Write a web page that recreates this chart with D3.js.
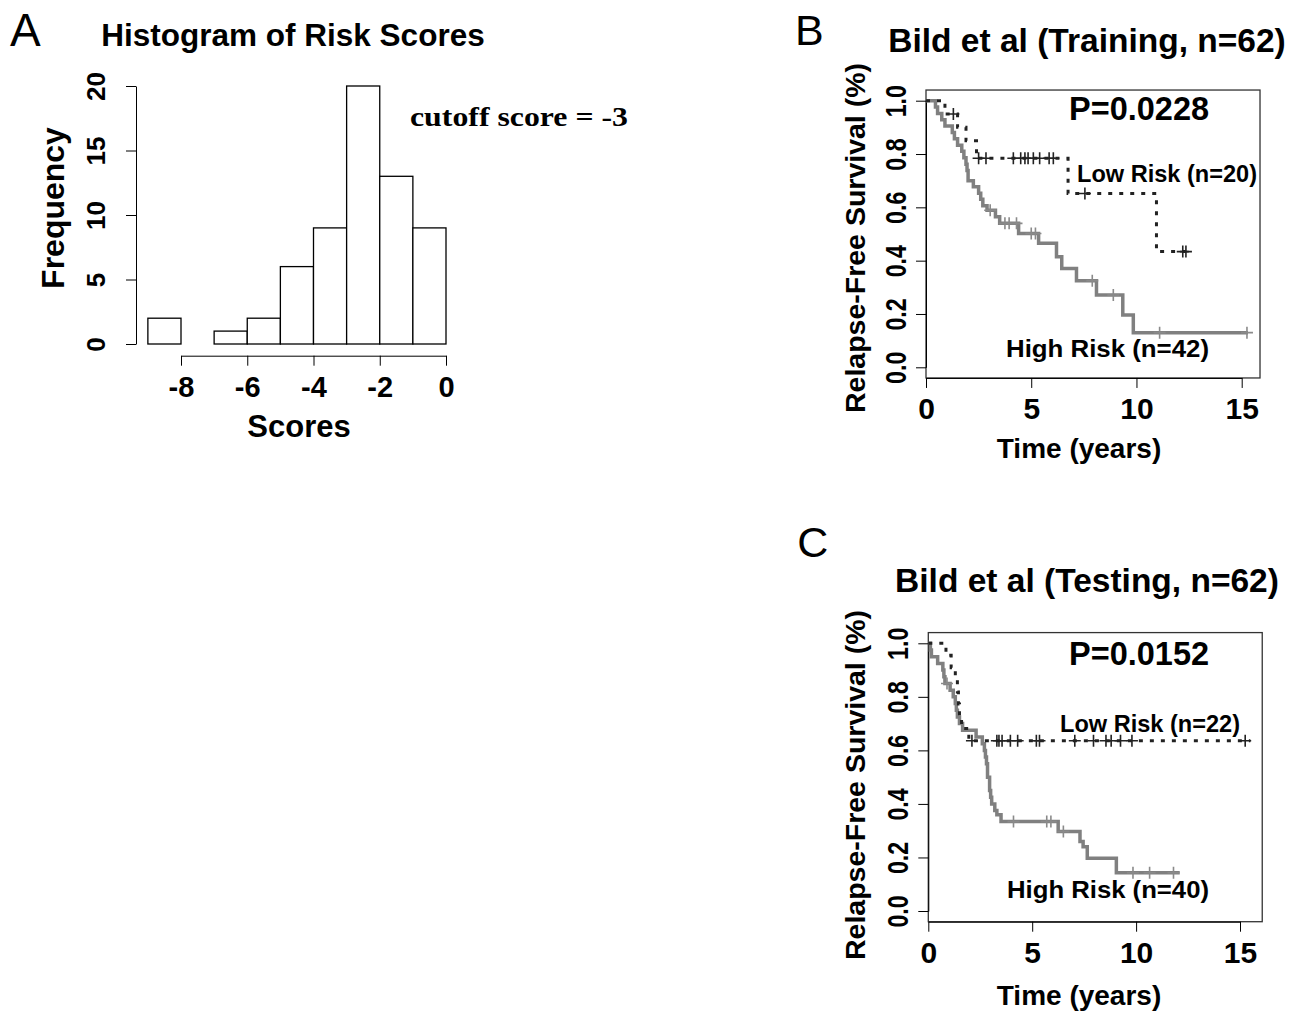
<!DOCTYPE html>
<html>
<head>
<meta charset="utf-8">
<script src="https://cdn.jsdelivr.net/npm/d3@7"></script>
<style>
  body { margin: 0; background: #fff; }
  svg text { font-family: 'Liberation Sans', Arial, sans-serif; fill: #000; }
</style>
</head>
<body>
<svg width="1294" height="1011"></svg>
<script>
/* global d3 */

// histogram of risk scores
const histEdges = [-9, -8, -7, -6, -5, -4, -3, -2, -1, 0];
const histCounts = [2, 0, 1, 2, 6, 9, 20, 13, 9];
const histXTicks = [-8, -6, -4, -2, 0];
const histYTicks = [0, 5, 10, 15, 20];

// km axes
const kmXTicks = [0, 5, 10, 15];
const kmYTicks = [0, 0.2, 0.4, 0.6, 0.8, 1.0];

// training set (B): [time, survival] steps, censor times, last follow-up
const trainLowSteps = [[0, 1], [0.9, 0.95], [1.5, 0.9], [1.9, 0.85], [2.4, 0.784], [6.75, 0.652], [10.95, 0.434]];
const trainLowCensor = [1.3, 2.5, 2.85, 4.15, 4.5, 4.7, 4.85, 5.1, 5.4, 5.85, 6.05, 7.55, 12.2, 12.35];
const trainLowEnd = 12.4;
const trainHighSteps = [[0, 1], [0.45, 0.976], [0.55, 0.952], [0.75, 0.929], [0.9, 0.905], [1.25, 0.881],
  [1.35, 0.857], [1.5, 0.833], [1.7, 0.81], [1.8, 0.786], [1.9, 0.762], [1.95, 0.738], [2.0, 0.70],
  [2.25, 0.677], [2.5, 0.653], [2.6, 0.63], [2.7, 0.606], [2.9, 0.589], [3.3, 0.565], [3.5, 0.54],
  [4.4, 0.502], [5.35, 0.465], [6.2, 0.415], [6.45, 0.371], [7.15, 0.325], [8.1, 0.271], [9.35, 0.196], [9.85, 0.13]];
const trainHighCensor = [3.05, 3.75, 3.95, 4.3, 5.0, 5.2, 7.9, 8.9, 11.1, 15.25];
const trainHighEnd = 15.3;

// testing set (C)
const testLowSteps = [[0, 1], [0.85, 0.955], [1.1, 0.909], [1.3, 0.864], [1.4, 0.818], [1.45, 0.773],
  [1.5, 0.727], [1.6, 0.682], [1.95, 0.636]];
const testLowCensor = [2.1, 3.3, 3.4, 3.55, 3.95, 4.3, 5.2, 5.35, 7.05, 7.95, 8.55, 8.8, 9.25, 9.8, 15.25];
const testLowEnd = 15.5;
const testHighSteps = [[0, 1], [0.1, 0.975], [0.15, 0.95], [0.45, 0.925], [0.7, 0.9], [0.75, 0.875],
  [0.8, 0.85], [1.05, 0.825], [1.2, 0.8], [1.3, 0.775], [1.35, 0.75], [1.4, 0.725], [1.5, 0.7],
  [1.65, 0.675], [2.3, 0.65], [2.6, 0.625], [2.7, 0.6], [2.75, 0.575], [2.8, 0.55], [2.85, 0.5],
  [2.95, 0.45], [3.0, 0.425], [3.05, 0.4], [3.2, 0.375], [3.3, 0.36], [3.5, 0.334], [6.25, 0.297],
  [7.3, 0.26], [7.45, 0.24], [7.65, 0.197], [9.05, 0.143]];
const testHighCensor = [0.9, 4.1, 5.7, 5.9, 6.5, 9.85, 10.65, 11.8];
const testHighEnd = 12.1;

const svg = d3.select('svg');

const txt = (x, y, s, size, opts = {}) => {
  const t = svg.append('text')
    .attr('x', x).attr('y', y)
    .attr('text-anchor', opts.anchor || 'middle')
    .attr('transform', opts.rotate ? `rotate(-90,${x},${y})` : null)
    .style('font-size', `${size}px`)
    .style('font-weight', opts.bold === false ? 'normal' : 'bold')
    .text(s);
  if (opts.family) t.style('font-family', opts.family);
  if (opts.len) t.attr('textLength', opts.len).attr('lengthAdjust', 'spacingAndGlyphs');
  return t;
};

const styleAxis = (a, size) => {
  a.attr('font-family', null).attr('font-size', null);
  a.selectAll('text')
    .style('font-size', `${size}px`)
    .style('font-weight', 'bold');
};

// ---- A: histogram
const hx = d3.scaleLinear().domain([-8, 0]).range([181, 446]);
const hy = d3.scaleLinear().domain([0, 20]).range([344, 86]);

txt(10, 46, 'A', 46, {bold: false, anchor: 'start'});
txt(293, 46, 'Histogram of Risk Scores', 31.5);

svg.append('g')
  .selectAll('rect')
  .data(histCounts)
  .enter()
  .append('rect')
  .attr('x', (d, i) => hx(histEdges[i]))
  .attr('y', d => hy(d))
  .attr('width', (d, i) => hx(histEdges[i + 1]) - hx(histEdges[i]))
  .attr('height', d => hy(0) - hy(d))
  .attr('fill', '#fff')
  .attr('stroke', '#000')
  .attr('stroke-width', 1.3);

const hYAxis = svg.append('g')
  .attr('transform', 'translate(136,0)')
  .call(d3.axisLeft(hy).tickValues(histYTicks).tickSize(10).tickSizeOuter(0));
hYAxis.selectAll('.tick text')
  .attr('x', null).attr('dy', null)
  .attr('text-anchor', 'middle')
  .attr('transform', 'translate(-31,0) rotate(-90)');
styleAxis(hYAxis, 26);

const hXAxis = svg.append('g')
  .attr('transform', 'translate(0,355.7)')
  .call(d3.axisBottom(hx).tickValues(histXTicks).tickSize(10).tickSizeOuter(0).tickFormat(d => String(d)));
hXAxis.selectAll('.tick text').attr('y', 41).attr('dy', null);
styleAxis(hXAxis, 29);

txt(299, 437, 'Scores', 31);
txt(64, 208, 'Frequency', 32, {rotate: true});
txt(410, 126, 'cutoff score = -3', 27, {anchor: 'start', len: 218, family: "'Liberation Serif', 'Times New Roman', serif"});

// ---- B, C: survival curves
const survAt = (steps, t) => {
  let s = steps[0][1];
  steps.forEach(d => { if (d[0] <= t) s = d[1]; });
  return s;
};

const drawKM = p => {
  const x = d3.scaleLinear().domain([0, 15]).range([p.left, p.x15]);
  const y = d3.scaleLinear().domain([0, 1]).range([p.y0, p.y1]);
  const g = svg.append('g');

  txt(p.left - 131, p.letterY, p.letter, 43, {bold: false, anchor: 'start'});
  txt(1087, p.titleY, p.title, 33.5);

  g.append('rect')
    .attr('x', x(0))
    .attr('y', y(1.04))
    .attr('width', x(p.tMax) - x(0))
    .attr('height', y(-0.04) - y(1.04))
    .attr('fill', 'none')
    .attr('stroke', '#333')
    .attr('stroke-width', 1.3);

  const yAxis = g.append('g')
    .attr('transform', `translate(${x(0)},0)`)
    .call(d3.axisLeft(y).tickValues(kmYTicks).tickSize(10).tickSizeOuter(0).tickFormat(d3.format('.1f')));
  yAxis.selectAll('.tick text')
    .attr('x', null).attr('dy', null)
    .attr('text-anchor', 'middle')
    .attr('transform', `translate(${p.yLabX - x(0)},0) rotate(-90) scale(0.8,1)`);
  styleAxis(yAxis, 29);

  const xAxis = g.append('g')
    .attr('transform', `translate(0,${y(-0.04)})`)
    .call(d3.axisBottom(x).tickValues(kmXTicks).tickSize(10).tickSizeOuter(0));
  xAxis.selectAll('.tick text').attr('y', 41).attr('dy', null);
  styleAxis(xAxis, 30);

  const line = d3.line()
    .x(d => x(d[0]))
    .y(d => y(d[1]))
    .curve(d3.curveStepAfter);

  p.groups.forEach(grp => {
    const pts = grp.steps.concat([[grp.end, grp.steps[grp.steps.length - 1][1]]]);
    g.append('path')
      .attr('d', line(pts))
      .attr('fill', 'none')
      .attr('stroke', grp.color)
      .attr('stroke-width', grp.dash ? 3 : 3.5)
      .attr('stroke-dasharray', grp.dash || null);

    g.append('g')
      .selectAll('path')
      .data(grp.censor)
      .enter()
      .append('path')
      .attr('d', t => {
        const cx = x(t);
        const cy = y(survAt(grp.steps, t));
        return `M${cx - 6},${cy}H${cx + 6}M${cx},${cy - 6}V${cy + 6}`;
      })
      .attr('stroke', grp.markColor)
      .attr('stroke-width', 1.6);
  });

  txt(p.pX, p.pY, p.pText, 32.5, {anchor: 'start'});
  txt(p.lowX, p.lowY, p.lowText, 24, {anchor: 'start', len: p.lowLen});
  txt(p.highX, p.highY, p.highText, 24.5, {anchor: 'start', len: p.highLen});
  txt(1079, p.xLabY, 'Time (years)', 28);
  txt(865, p.yLabMid, 'Relapse-Free Survival (%)', 28.5, {rotate: true});
};

drawKM({
  letter: 'B', letterY: 45, title: 'Bild et al (Training, n=62)', titleY: 52,
  left: 926, x15: 1241.7, y0: 367.3, y1: 100.7, tMax: 15.87, yLabX: 906,
  xLabY: 458, yLabMid: 238,
  pText: 'P=0.0228', pX: 1069, pY: 120,
  lowText: 'Low Risk (n=20)', lowX: 1077, lowY: 182, lowLen: 180,
  highText: 'High Risk (n=42)', highX: 1006, highY: 357, highLen: 203,
  groups: [
    {steps: trainHighSteps, censor: trainHighCensor, end: trainHighEnd, color: '#808080', markColor: '#8a8a8a'},
    {steps: trainLowSteps, censor: trainLowCensor, end: trainLowEnd, color: '#222', markColor: '#222', dash: '4,7'}
  ]
});

drawKM({
  letter: 'C', letterY: 557, title: 'Bild et al (Testing, n=62)', titleY: 592,
  left: 928.3, x15: 1240, y0: 911, y1: 643.3, tMax: 16.07, yLabX: 908,
  xLabY: 1005, yLabMid: 785,
  pText: 'P=0.0152', pX: 1069, pY: 665,
  lowText: 'Low Risk (n=22)', lowX: 1060, lowY: 732, lowLen: 180,
  highText: 'High Risk (n=40)', highX: 1007, highY: 898, highLen: 202,
  groups: [
    {steps: testHighSteps, censor: testHighCensor, end: testHighEnd, color: '#808080', markColor: '#8a8a8a'},
    {steps: testLowSteps, censor: testLowCensor, end: testLowEnd, color: '#222', markColor: '#222', dash: '4,7'}
  ]
});
</script>
</body>
</html>
